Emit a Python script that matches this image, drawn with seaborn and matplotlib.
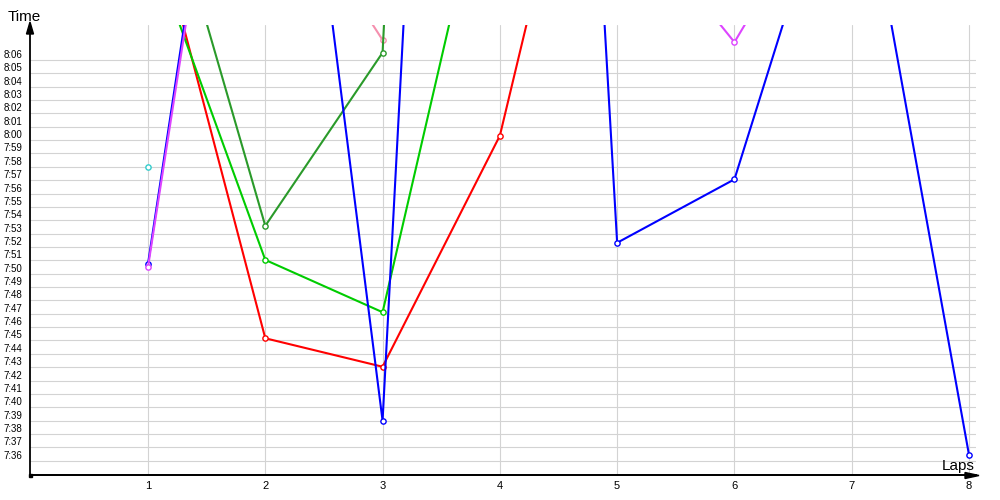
import matplotlib
matplotlib.use("Agg")
import matplotlib.pyplot as plt
from matplotlib.patches import Polygon, Rectangle
import numpy as np
import pandas as pd
import seaborn as sns

# ---------------- data ----------------
laps = [1, 2, 3, 4, 5, 6, 7, 8]

red_times = ["8:18:39", "7:45:10", "7:43:02", "8:00:20", "8:36:58", None, None, None]
green_times = ["8:15:10", "7:51:02", "7:47:07", "8:25:03", None, None, None, None]
dark_green_times = ["8:23:54", "7:53:35", "8:06:33", "11:00:00", None, None, None, None]
blue_times = ["7:50:44", "8:48:30", "7:39:00", "10:25:00", "7:52:19", "7:57:04", "8:25:06", "7:36:26"]
magenta_times = ["7:50:30", "8:46:54", "8:40:00", "8:30:00", "8:18:12", "8:07:20", "8:22:05", None]
pink_times = [None, "8:21:06", "8:07:30", None, None, None, None, None]
cyan_times = ["7:57:58", None, None, None, None, None, None, None]

series_names = ["pink", "red", "green", "dark_green", "blue", "magenta", "cyan"]
series_times = [pink_times, red_times, green_times, dark_green_times,
                blue_times, magenta_times, cyan_times]
series_colors = {"pink": "#F58FAE", "red": "#FF0000", "green": "#00CC00",
                 "dark_green": "#2A9A2A", "blue": "#0000FF",
                 "magenta": "#DD44FF", "cyan": "#33CCCC"}

y_tick_labels = ["7:36", "7:37", "7:38", "7:39", "7:40", "7:41", "7:42", "7:43",
                 "7:44", "7:45", "7:46", "7:47", "7:48", "7:49", "7:50", "7:51",
                 "7:52", "7:53", "7:54", "7:55", "7:56", "7:57", "7:58", "7:59",
                 "8:00", "8:01", "8:02", "8:03", "8:04", "8:05", "8:06"]
x_tick_labels = ["1", "2", "3", "4", "5", "6", "7", "8"]


def to_minutes(t):
    parts = [int(p) for p in t.split(":")]
    while len(parts) < 3:
        parts.append(0)
    return parts[0] * 60 + parts[1] + parts[2] / 60.0


rows = []
for name, times in zip(series_names, series_times):
    for lap, t in zip(laps, times):
        if t is not None:
            rows.append({"series": name, "lap": lap, "minutes": to_minutes(t)})
df = pd.DataFrame(rows)

# ---------------- style ----------------
sns.set_style("white")
plt.rcParams["font.family"] = ["Liberation Sans", "DejaVu Sans"]

W, H = 1000, 500
fig = plt.figure(figsize=(10, 5), dpi=100)
ax = fig.add_axes([30 / W, 25 / H, 945.7 / W, 450 / H])

for name in series_names:
    sub = df[df["series"] == name]
    c = series_colors[name]
    sns.lineplot(data=sub, x="lap", y="minutes", ax=ax, color=c,
                 estimator=None, sort=False, linewidth=1.5,
                 marker="o", markersize=3.8, markerfacecolor="white",
                 markeredgecolor=c, markeredgewidth=1.0, zorder=3)

ax.set_xlim(-0.006, 8.057)
ax.set_ylim(454.93, 488.62)

ax.set_xticks(laps)
ax.set_xticklabels(x_tick_labels)
ytick_vals = [to_minutes(s) for s in y_tick_labels]
ax.set_yticks(ytick_vals)
ax.set_yticklabels(y_tick_labels)
for lbl in ax.get_yticklabels():
    lbl.set_va("bottom")

ax.tick_params(axis="y", length=0, pad=5.5, labelsize=7, labelcolor="black")
ax.tick_params(axis="x", length=0, pad=4.5, labelsize=8, labelcolor="black")

ax.grid(True, color="#D3D3D3", linewidth=0.8)
ax.set_axisbelow(True)
ax.set_xlabel("")
ax.set_ylabel("")

for s in ["top", "right"]:
    ax.spines[s].set_visible(False)
for s in ["left", "bottom"]:
    ax.spines[s].set_color("black")
    ax.spines[s].set_linewidth(1.3)


def fp(x, y):
    return (x / W, 1 - y / H)


# arrows and origin
fig.patches.append(Polygon([fp(30, 22), fp(26.5, 34), fp(33.5, 34)], closed=True,
                           color="black", transform=fig.transFigure, figure=fig))
fig.patches.append(Polygon([fp(979, 475.5), fp(965, 472.5), fp(965, 478.5)], closed=True,
                           color="black", transform=fig.transFigure, figure=fig))
fig.lines.append(plt.Line2D([30 / W, 966 / W], [1 - 475.3 / H, 1 - 475.3 / H],
                            color="black", linewidth=1.3, transform=fig.transFigure))
fig.patches.append(Rectangle(fp(28.5, 477), 3.5 / W, 3.5 / H, color="black",
                             transform=fig.transFigure, figure=fig))

fig.text(8 / W, 1 - 21 / H, "Time", fontsize=11, va="baseline", ha="left", color="black")
fig.text(975 / W, 1 - 470 / H, "Laps", fontsize=11, va="baseline", ha="right", color="black")

fig.savefig("out.png", dpi=100, facecolor="white")
